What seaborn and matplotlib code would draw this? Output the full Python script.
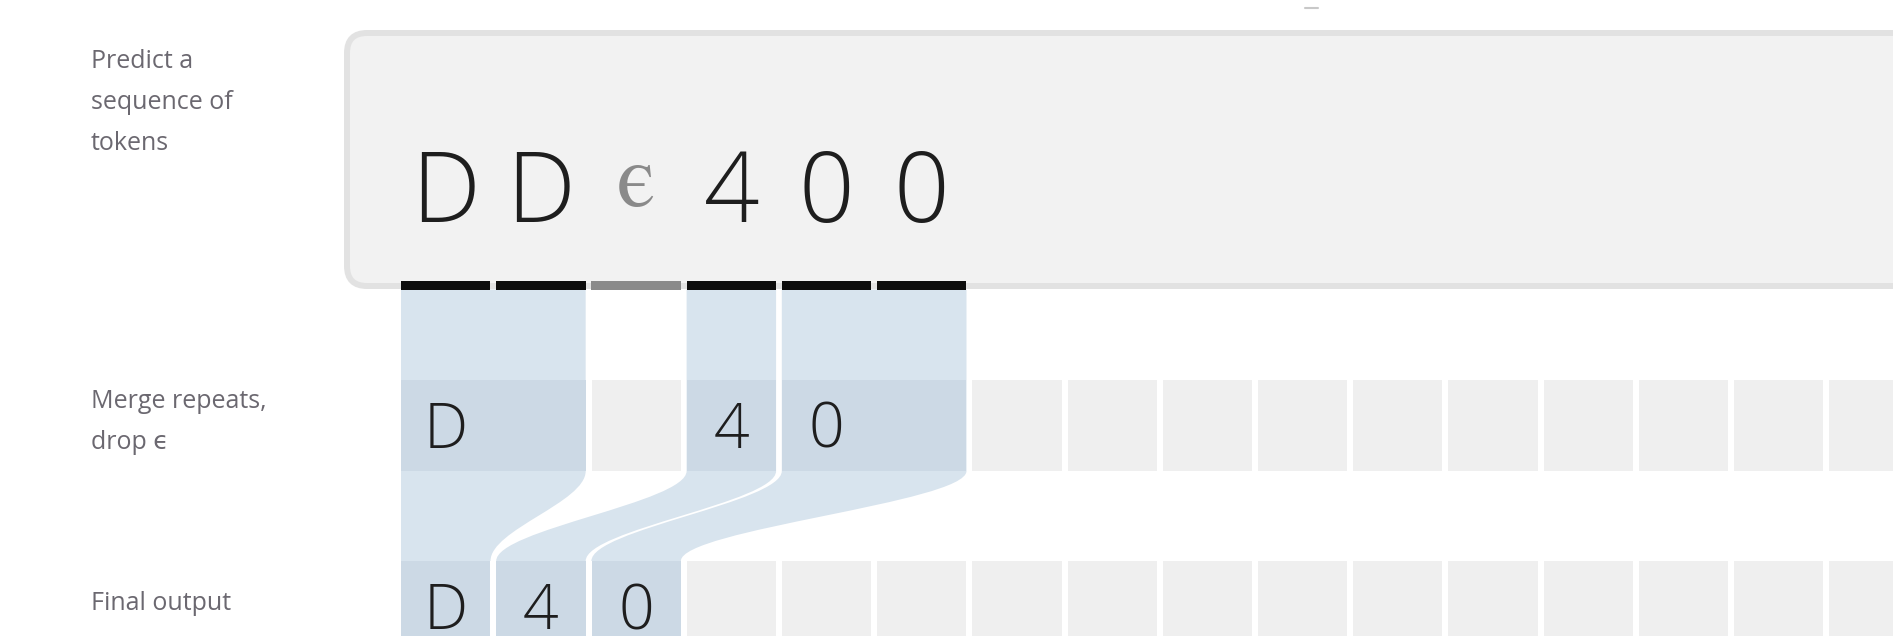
import numpy as np
import matplotlib.pyplot as plt
import matplotlib.transforms as mtransforms
from matplotlib.colors import ListedColormap
from matplotlib.patches import FancyBboxPatch, PathPatch
from matplotlib.path import Path
import seaborn as sns

# --- data -------------------------------------------------------------
tokens = ["D", "D", "ϵ", "4", "0", "0"]
BLANK = "ϵ"
merge_labels = ["D", "4", "0"]
merge_start = [0, 3, 4]      # first token slot of each merged run
merge_stop = [2, 4, 6]       # one past the last slot of the run
final_output = ["D", "4", "0"]
N_SLOTS = 16
row_labels = [
    ["Predict a", "sequence of", "tokens"],
    ["Merge repeats,", "drop ϵ"],
    ["Final output"],
]

# --- layout (pixels from top-left) -----------------------------------
W, H = 1893, 636
X0, PITCH = 401, 95.2
GAP = 0.06
BAR_TOP, BAR_BOT = 281, 289.5
MERGE_TOP, MERGE_BOT = 380, 471
FINAL_TOP, FINAL_BOT = 561, 652
TOKEN_BASE = 222
ROW_BASE = 68          # baseline offset of row text below row top
LABEL_X = 91
LABEL_Y = [62, 402, 603]
LINE_STEP = 40.5

GREY = "#efefef"
RIBBON = "#d8e4ee"
RIBBON_DARK = "#ccd9e5"
INK = "#1e1e1e"
BLANK_INK = "#8a8a8a"
LABEL_COLOR = "#6b6870"
TOKEN_FONT = ["Open Sans", "DejaVu Sans"]
BLANK_FONT = ["STIXGeneral", "DejaVu Serif"]

sns.set_theme(style="white")
plt.rcParams["font.family"] = ["Open Sans", "DejaVu Sans"]

fig = plt.figure(figsize=(W / 100, H / 100), dpi=100)
fig.patch.set_facecolor("white")
px = mtransforms.Affine2D().scale(1 / W, -1 / H).translate(0, 1) + fig.transFigure
slot_cmap = ListedColormap([GREY, RIBBON_DARK])
gap_pt = GAP * PITCH * 0.72


def slot_axes(top, bot):
    pad = GAP * PITCH / 2
    left = (X0 - pad) / W
    a = fig.add_axes([left, 1 - (bot + pad) / H, N_SLOTS * PITCH / W, (bot - top + 2 * pad) / H])
    a.set_facecolor("none")
    return a


# merge row slots
ax_m = slot_axes(MERGE_TOP, MERGE_BOT)
sns.heatmap(np.zeros((1, N_SLOTS)), ax=ax_m, cmap=slot_cmap, vmin=0, vmax=1, cbar=False,
            linewidths=gap_pt, linecolor="white", xticklabels=False, yticklabels=False)

# final row slots
ax_f = slot_axes(FINAL_TOP, FINAL_BOT)
final_fill = np.array([[1 if i < len(final_output) else 0 for i in range(N_SLOTS)]])
sns.heatmap(final_fill, ax=ax_f, cmap=slot_cmap, vmin=0, vmax=1, cbar=False,
            linewidths=gap_pt, linecolor="white", xticklabels=False, yticklabels=False)

# overlay axes: x in slot units, y in pixels
ax = fig.add_axes([0, 0, 1, 1], zorder=3)
ax.set_xlim(-X0 / PITCH, (W - X0) / PITCH)
ax.set_ylim(H, 0)
ax.axis("off")

box = FancyBboxPatch((347, 33), 2000, 253, boxstyle="round,pad=0,rounding_size=20",
                     transform=px, lw=4.3, ec="#e2e2e2", fc="#f2f2f2", zorder=1)
ax.add_patch(box)

# predicted token bars
bar_colors = [BLANK_INK if t == BLANK else "#0d0d0d" for t in tokens]
ax.bar(np.arange(len(tokens)), BAR_BOT - BAR_TOP, bottom=BAR_TOP, width=1 - GAP,
       align="edge", color=bar_colors, lw=0, zorder=3)
for i, t in enumerate(tokens):
    is_blank = t == BLANK
    ax.text(i + (1 - GAP) / 2, TOKEN_BASE - (16 if is_blank else 0), t, ha="center",
            va="baseline", fontsize=64 if is_blank else 70, fontweight=300,
            family=BLANK_FONT if is_blank else TOKEN_FONT,
            color=BLANK_INK if is_blank else INK, zorder=4)

# ribbons from runs to output slots
yk = 0.35 * (FINAL_TOP - MERGE_BOT)
for g in range(len(merge_labels)):
    xl0, xr0 = merge_start[g], merge_stop[g] - GAP
    xl1, xr1 = g, g + 1 - GAP
    verts = [(xl0, BAR_BOT), (xl0, MERGE_BOT),
             (xl0, MERGE_BOT + yk), (xl1, FINAL_TOP - yk), (xl1, FINAL_TOP),
             (xr1, FINAL_TOP),
             (xr1, FINAL_TOP - yk), (xr0, MERGE_BOT + yk), (xr0, MERGE_BOT),
             (xr0, BAR_BOT), (xl0, BAR_BOT)]
    codes = [Path.MOVETO, Path.LINETO, Path.CURVE4, Path.CURVE4, Path.CURVE4,
             Path.LINETO, Path.CURVE4, Path.CURVE4, Path.CURVE4, Path.LINETO, Path.CLOSEPOLY]
    ax.add_patch(PathPatch(Path(verts, codes), fc=RIBBON, lw=0, zorder=2))

widths = np.array(merge_stop) - np.array(merge_start) - GAP
ax.bar(merge_start, MERGE_BOT - MERGE_TOP, bottom=MERGE_TOP, width=widths,
       align="edge", color=RIBBON_DARK, lw=0, zorder=2.5)
for s, lab in zip(merge_start, merge_labels):
    ax.text(s + (1 - GAP) / 2, MERGE_TOP + ROW_BASE, lab, ha="center", va="baseline",
            fontsize=45, fontweight=300, family=TOKEN_FONT, color=INK, zorder=4)
for k, lab in enumerate(final_output):
    ax.text(k + (1 - GAP) / 2, FINAL_TOP + ROW_BASE, lab, ha="center", va="baseline",
            fontsize=45, fontweight=300, family=TOKEN_FONT, color=INK, zorder=4)

# row labels
for r, lines in enumerate(row_labels):
    for j, line in enumerate(lines):
        ax.text(LABEL_X, LABEL_Y[r] + j * LINE_STEP, line, transform=px, ha="left",
                va="center", fontsize=18, color=LABEL_COLOR)

ax.plot([1305, 1318], [8, 8], transform=px, color="#c8c8c8", lw=1.5)

fig.savefig("out.png", dpi=100)
plt.close(fig)
